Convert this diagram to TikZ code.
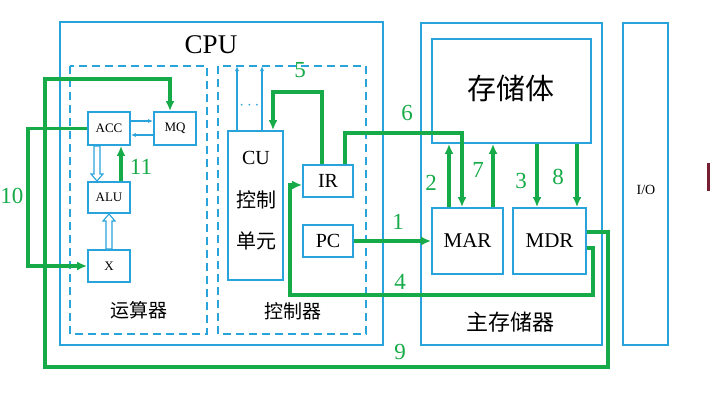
\documentclass[tikz,border=0pt]{standalone}
\usepackage{fontspec}
\setmainfont{Liberation Serif}
\newfontfamily\cjk{Noto Sans CJK SC}
\usetikzlibrary{arrows.meta,calc}
\definecolor{bl}{RGB}{41,163,220}
\definecolor{gr}{RGB}{22,170,72}
\definecolor{dred}{RGB}{120,30,50}
\tikzset{
  box/.style={draw=bl,line width=1.8pt,inner sep=0pt},
  dbox/.style={draw=bl,line width=1.6pt,dash pattern=on 8pt off 5pt},
  g/.style={draw=gr,line width=3.2pt},
  ga/.style={g,-{Latex[length=10pt,width=9pt]}},
  ba/.style={draw=bl,line width=1.1pt,-{Latex[length=5pt,width=4pt]}},
  hollow/.style={draw=bl,line width=1.1pt,fill=white},
  num/.style={text=gr,font=\fontsize{23}{23}\selectfont,inner sep=0pt},
}
\begin{document}
\begin{tikzpicture}[x=1pt,y=-1pt]
\useasboundingbox (0,0) rectangle (710,407);
% outer boxes
\node[box,minimum width=323pt,minimum height=323pt] (cpu) at (221.5,183.5) {};
\node[font=\fontsize{27}{27}\selectfont] (cputxt) at (211,45) {CPU};
\draw[dbox] (70,66) rectangle (207,334);
\draw[dbox] (218,66) rectangle (366,334);
\node[font=\cjk\fontsize{19}{19}\selectfont] (ysq) at (139,310) {运算器};
\node[font=\cjk\fontsize{19}{19}\selectfont] (kzq) at (293,311) {控制器};
\node[box,minimum width=181pt,minimum height=322pt] (mm) at (511.5,184) {};
\node[box,minimum width=159pt,minimum height=104pt] (mem) at (511.5,91) {};
\node[font=\cjk\fontsize{29}{29}\selectfont] (memtxt) at (511,88) {存储体};
\node[font=\cjk\fontsize{22}{22}\selectfont] (mmtxt) at (510,322) {主存储器};
\node[box,minimum width=45pt,minimum height=322pt] (io) at (645.5,184) {};
\node[font=\fontsize{14}{14}\selectfont] (iotxt) at (646,190) {I/O};
\fill[dred] (707,163) rectangle (710,191);
% ALU part
\node[box,minimum width=42pt,minimum height=33pt,font=\fontsize{13}{13}\selectfont] (acc) at (109,128.5) {ACC};
\node[box,minimum width=42pt,minimum height=33pt,font=\fontsize{13}{13}\selectfont] (mq) at (175,128.5) {MQ};
\node[box,minimum width=42pt,minimum height=31pt,font=\fontsize{13}{13}\selectfont] (alu) at (109,197.5) {ALU};
\node[box,minimum width=42pt,minimum height=32pt,font=\fontsize{13}{13}\selectfont] (x) at (109,266) {X};
\draw[ba] (acc.east |- 0,121) -- (mq.west |- 0,121);
\draw[ba] (mq.west |- 0,135) -- (acc.east |- 0,135);
\draw[hollow] (94,146) -- (100,146) -- (100,174) -- (103,174) -- (97,181) -- (91,174) -- (94,174) -- cycle;
\draw[hollow] (106,249) -- (112,249) -- (112,221) -- (115,221) -- (109,214) -- (103,221) -- (106,221) -- cycle;
% control unit
\node[box,minimum width=55pt,minimum height=149pt] (cu) at (255.5,205.5) {};
\node[font=\fontsize{20}{20}\selectfont] (cutxt) at (256,158) {CU};
\node[font=\cjk\fontsize{20}{20}\selectfont] (kz) at (256,200) {控制};
\node[font=\cjk\fontsize{20}{20}\selectfont] (dy) at (256,241) {单元};
\node[box,minimum width=50pt,minimum height=32pt,font=\fontsize{20}{20}\selectfont] (ir) at (328,181) {IR};
\node[box,minimum width=50pt,minimum height=32pt,font=\fontsize{20}{20}\selectfont] (pc) at (328,241) {PC};
\draw[ba] (cu.north -| 237,0) -- (237,66);
\draw[ba] (cu.north -| 262,0) -- (262,66);
\node[text=bl,font=\fontsize{16}{16}\selectfont] (dots) at (249.5,106) {$\cdots$};
% memory regs
\node[box,minimum width=71pt,minimum height=66pt,font=\fontsize{21}{21}\selectfont] (mar) at (467.5,241) {MAR};
\node[box,minimum width=73pt,minimum height=66pt,font=\fontsize{21}{21}\selectfont] (mdr) at (549.5,241) {MDR};
% green data paths
\draw[ga] (pc.east) -- (mar.west |- pc.east);
\draw[ga] (mar.north -| 449,0) -- (mem.south -| 449,0);
\draw[ga] (mem.south -| 537,0) -- (mdr.north -| 537,0);
\draw[ga] ([yshift=-7pt]mdr.east) -| (593,295) -| (290,185) -- ([yshift=-4pt]ir.west);
\draw[ga] ([xshift=-6pt]ir.north) |- (273,92) -- ([xshift=17.5pt]cu.north);
\draw[ga] ([xshift=17pt]ir.north) |- (462,133) -- (mar.north -| 462,0);
\draw[ga] (mar.north -| 493,0) -- (mem.south -| 493,0);
\draw[ga] (mem.south -| 577,0) -- (mdr.north -| 577,0);
\draw[ga] ([yshift=9pt]mdr.east) -| (608,367) -| (45,79) -| ([xshift=-5pt]mq.north);
\draw[ga] (acc.west) -| (28,266) -- (x.west);
\draw[ga] (alu.north -| 121,0) -- (acc.south -| 121,0);
% labels
\node[num] (n1) at (398,222) {1};
\node[num] (n2) at (431,183) {2};
\node[num] (n3) at (521,181) {3};
\node[num] (n4) at (400,282) {4};
\node[num] (n5) at (300,70) {5};
\node[num] (n6) at (407,113) {6};
\node[num] (n7) at (478,170) {7};
\node[num] (n8) at (558,177) {8};
\node[num] (n9) at (400,352) {9};
\node[num] (n10) at (12,196) {10};
\node[num] (n11) at (141,167) {11};
\end{tikzpicture}
\end{document}
